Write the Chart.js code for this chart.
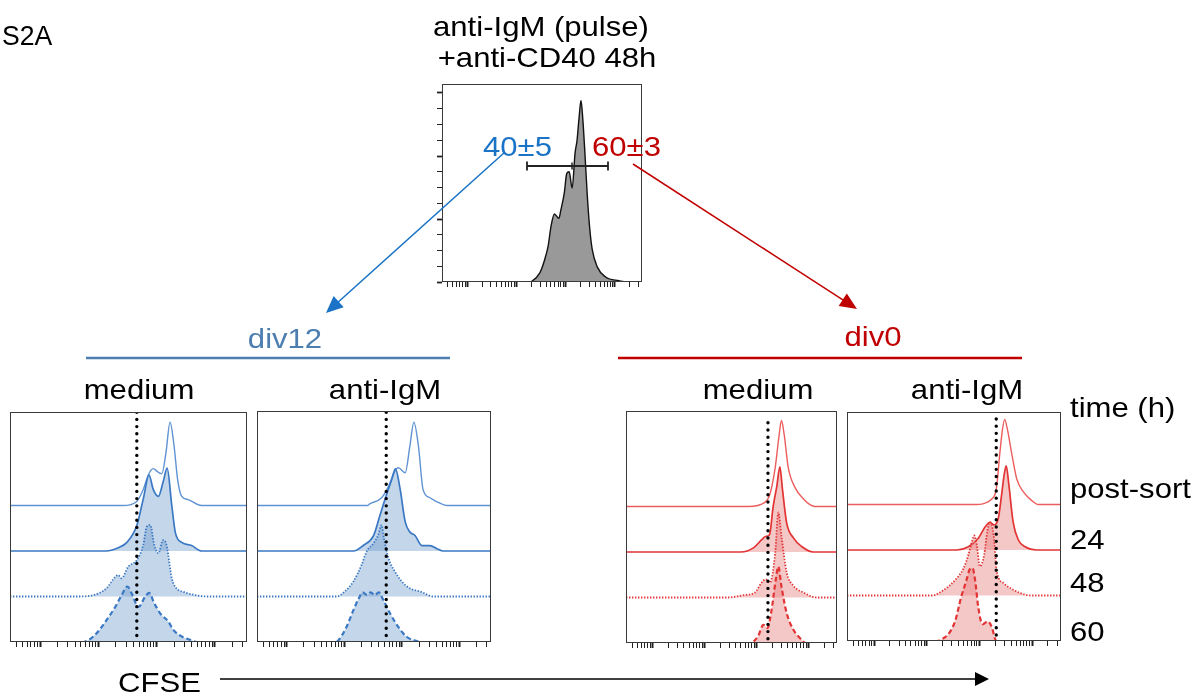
<!DOCTYPE html>
<html><head><meta charset="utf-8">
<script src="https://cdn.jsdelivr.net/npm/chart.js@4.4.1/dist/chart.umd.min.js"></script>
<style>
html,body{margin:0;padding:0;background:#fff;}
#fig{position:relative;width:1196px;height:696px;overflow:hidden;font-family:"Liberation Sans",Arial,sans-serif;}
.t{position:absolute;white-space:nowrap;line-height:1;font-size:28px;color:#000;}
canvas{position:absolute;}
svg{position:absolute;left:0;top:0;}
</style></head><body><div id="fig"></div>
<script>
// ---------------- DATA (log10 CFSE, relative count) ----------------
const panelTitles = ['medium', 'anti-IgM', 'medium', 'anti-IgM'];
const groupTitles = ['div12', 'div0'];
const timeLabels = ['post-sort', '24', '48', '60'];
const gatePercents = ['40±5', '60±3'];

// top histogram: anti-IgM (pulse) + anti-CD40 48h
const pulseHist = [[2.25,0],[2.31,0.01],[2.47,0.14],[2.57,0.35],[2.64,0.56],[2.70,0.88],[2.77,1.08],[2.86,1.01],[2.90,1.14],[2.97,1.41],[3.02,1.72],[3.07,1.75],[3.13,1.49],[3.19,2.05],[3.23,2.25],[3.27,2.6],[3.31,2.88],[3.35,2.55],[3.39,2.04],[3.44,1.35],[3.49,0.83],[3.54,0.51],[3.64,0.24],[3.81,0.08],[4.08,0.02],[4.25,0]];

// div12 / medium
const div12MedPost = [[2.42,0],[2.66,0.09],[2.77,0.35],[2.86,0.68],[2.94,0.81],[3.03,0.73],[3.09,0.70],[3.16,1.16],[3.23,1.83],[3.30,1.30],[3.36,0.57],[3.43,0.20],[3.54,0.13],[3.77,0]];
const div12Med24 = [[2.14,0],[2.32,0.06],[2.49,0.19],[2.66,0.56],[2.77,1.14],[2.87,1.67],[2.94,1.36],[3.03,1.20],[3.11,1.51],[3.18,1.82],[3.26,1.0],[3.32,0.41],[3.43,0.19],[3.60,0.12],[3.77,0]];
const div12Med48 = [[1.63,0],[1.91,0.03],[2.14,0.18],[2.29,0.43],[2.34,0.47],[2.40,0.40],[2.51,0.65],[2.66,0.80],[2.77,1.13],[2.83,1.53],[2.89,1.57],[2.96,1.13],[3.03,0.95],[3.11,1.24],[3.17,1.13],[3.26,0.40],[3.34,0.18],[3.46,0.10],[3.63,0.04],[3.86,0]];
const div12Med60 = [[1.75,0],[1.83,0.04],[1.97,0.19],[2.14,0.48],[2.29,0.77],[2.40,1.03],[2.50,1.22],[2.57,1.07],[2.69,0.77],[2.80,0.99],[2.87,1.08],[2.96,0.85],[3.06,0.63],[3.20,0.45],[3.29,0.26],[3.43,0.12],[3.60,0.04],[3.69,0]];
// div12 / anti-IgM
const div12IgmPost = [[2.40,0],[2.45,0.04],[2.65,0.17],[2.77,0.42],[2.87,0.73],[2.94,0.83],[3.06,0.72],[3.14,1.30],[3.21,1.83],[3.29,1.30],[3.37,0.35],[3.49,0.17],[3.63,0.07],[3.78,0]];
const div12Igm24 = [[2.16,0],[2.33,0.12],[2.51,0.34],[2.62,0.78],[2.74,1.26],[2.83,1.59],[2.89,1.81],[2.97,1.37],[3.06,0.64],[3.14,0.42],[3.23,0.34],[3.35,0.12],[3.49,0.12],[3.61,0.05],[3.72,0]];
const div12Igm48 = [[1.87,0],[2.01,0.11],[2.16,0.33],[2.30,0.69],[2.39,0.99],[2.51,1.17],[2.59,1.35],[2.65,1.57],[2.69,1.28],[2.77,0.84],[2.88,0.55],[3.00,0.33],[3.14,0.18],[3.32,0.11],[3.55,0]];
const div12Igm60 = [[1.85,0],[1.90,0.04],[2.04,0.33],[2.16,0.70],[2.25,0.95],[2.32,1.09],[2.40,1.03],[2.46,1.09],[2.53,1.03],[2.60,1.09],[2.68,0.92],[2.80,0.62],[2.94,0.33],[3.09,0.11],[3.26,0.02],[3.32,0]];
// div0 / medium
const div0MedPost = [[2.84,0],[3.16,0.09],[3.26,0.28],[3.36,0.86],[3.43,1.52],[3.48,1.89],[3.53,1.60],[3.61,0.86],[3.74,0.42],[3.90,0.17],[4.03,0.04],[4.13,0]];
const div0Med24 = [[2.70,0],[2.94,0.09],[3.10,0.27],[3.17,0.34],[3.25,0.38],[3.32,1.0],[3.39,1.44],[3.45,1.87],[3.50,1.37],[3.58,0.64],[3.71,0.31],[3.87,0.12],[4.09,0]];
const div0Med48 = [[2.43,0],[2.75,0.05],[2.97,0.11],[3.10,0.33],[3.18,0.40],[3.26,0.33],[3.36,0.99],[3.42,1.87],[3.48,1.35],[3.58,0.55],[3.71,0.26],[3.90,0.11],[4.16,0]];
const div0Med60 = [[2.87,0],[3.03,0.15],[3.13,0.40],[3.21,0.33],[3.29,0.73],[3.37,1.39],[3.42,1.68],[3.48,1.24],[3.58,0.66],[3.71,0.29],[3.87,0.07],[3.94,0]];
// div0 / anti-IgM
const div0IgmPost = [[2.89,0],[3.27,0.16],[3.33,0.42],[3.39,1.15],[3.44,1.66],[3.48,1.87],[3.53,1.66],[3.62,1.08],[3.71,0.56],[3.84,0.27],[3.99,0.09],[4.12,0]];
const div0Igm24 = [[2.57,0],[2.79,0.07],[2.98,0.26],[3.11,0.51],[3.20,0.61],[3.28,0.55],[3.36,0.70],[3.43,1.29],[3.47,1.65],[3.51,1.85],[3.56,1.43],[3.64,0.62],[3.74,0.22],[3.87,0.07],[4.09,0]];
const div0Igm48 = [[2.10,0],[2.32,0.12],[2.54,0.34],[2.70,0.60],[2.79,0.89],[2.86,1.19],[2.90,1.32],[2.95,1.11],[3.01,0.64],[3.09,0.89],[3.15,1.41],[3.20,1.61],[3.27,1.33],[3.33,0.53],[3.46,0.27],[3.65,0.12],[3.90,0.01],[4.0,0]];
const div0Igm60 = [[2.20,0],[2.25,0.02],[2.41,0.15],[2.54,0.44],[2.65,0.95],[2.75,1.32],[2.82,1.58],[2.87,1.60],[2.92,1.32],[2.98,0.73],[3.06,0.37],[3.16,0.43],[3.24,0.29],[3.30,0.04],[3.33,0]];

// dotted reference line (CFSE of undivided peak) per panel
const dottedGatePos = [2.66, 2.73, 3.22, 3.32];
const dottedTop = [5.05, 5.05, 4.84, 4.88];

// axis ticks
const decades = [0, 1, 2, 3, 4, 5];
const minorMult = [1, 2, 3, 4, 5, 6, 7, 8, 9];
const topYTicks = [0, 0.25, 0.5, 0.75, 1, 1.25, 1.5, 1.75, 2, 2.25, 2.5, 2.75, 3];

// ---------------- LAYOUT ----------------
const X_MIN = 0.485, X_MAX = 4.55;
const fig = document.getElementById('fig');
const xTicks = [];
decades.forEach(d => minorMult.forEach(k => { const v = d + Math.log10(k); if (v >= X_MIN && v <= X_MAX) xTicks.push(v); }));
const isMajor = v => Math.abs(v - Math.round(v)) < 1e-6;

const framePlugin = {
  id: 'frame',
  afterDatasetsDraw(chart, args, o) {
    const a = chart.chartArea, c = chart.ctx;
    c.save(); c.strokeStyle = o.color || '#444'; c.lineWidth = 1;
    c.strokeRect(Math.round(a.left) + 0.5, Math.round(a.top) + 0.5, Math.round(a.right - a.left) - 1, Math.round(a.bottom - a.top) - 1);
    c.restore();
  }
};

function makeChart(box, datasets, yMax, yTicks) {
  const cv = document.createElement('canvas');
  const W = box.w + 10, H = box.h + 10;
  cv.width = W; cv.height = H;
  cv.style.left = (box.l - 8) + 'px'; cv.style.top = (box.t - 2) + 'px';
  cv.style.width = W + 'px'; cv.style.height = H + 'px';
  fig.appendChild(cv);
  new Chart(cv.getContext('2d'), {
    type: 'line',
    data: { datasets },
    plugins: [framePlugin],
    options: {
      responsive: false, animation: false, devicePixelRatio: 1,
      layout: { padding: { top: 2, right: 2, left: 0, bottom: 0 } },
      plugins: { legend: { display: false }, tooltip: { enabled: false }, frame: { color: '#3a3a3a' } },
      elements: { point: { radius: 0 }, line: { cubicInterpolationMode: 'monotone' } },
      scales: {
        x: {
          type: 'linear', min: X_MIN, max: X_MAX,
          afterBuildTicks: s => { s.ticks = xTicks.map(v => ({ value: v })); },
          afterFit: s => { s.height = 8; },
          border: { display: false },
          grid: { display: true, drawOnChartArea: false, drawTicks: true, tickLength: 5, tickColor: '#222',
                  tickWidth: c => (c.tick && isMajor(c.tick.value)) ? 2 : 1 },
          ticks: { display: false, autoSkip: false }
        },
        y: {
          type: 'linear', min: 0, max: yMax,
          afterBuildTicks: s => { if (yTicks) s.ticks = yTicks.map(v => ({ value: v })); },
          afterFit: s => { s.width = 8; },
          border: { display: false },
          grid: { display: !!yTicks, drawOnChartArea: false, drawTicks: true, tickLength: 5, tickColor: '#222',
                  tickWidth: c => (c.tick && isMajor(c.tick.value)) ? 1.8 : 1 },
          ticks: { display: false, autoSkip: false }
        }
      }
    }
  });
}

const toPts = (arr, off) => [{ x: X_MIN, y: off }].concat(arr.map(p => ({ x: p[0], y: off + p[1] })), [{ x: X_MAX, y: off }]);

const PAL = {
  blue: { post: '#5f93d3', line: '#3a78c4', fill: 'rgba(108,152,202,0.40)' },
  red:  { post: '#ec5e5e', line: '#e23434', fill: 'rgba(230,117,117,0.40)' }
};
const STY = [
  { dash: [], w: 1.4, fill: false, off: 3 },
  { dash: [], w: 1.7, fill: true, off: 2 },
  { dash: [1.4, 1.6], w: 1.8, fill: true, off: 1 },
  { dash: [5, 3], w: 2.2, fill: true, off: 0 }
];

function histPanel(box, curves, pal, gi) {
  const yMax = box.h / 45.5;
  const ds = curves.map((c, i) => {
    const s = STY[i];
    return {
      data: toPts(c, s.off), borderColor: i === 0 ? pal.post : pal.line, borderWidth: s.w, borderDash: s.dash,
      fill: s.fill ? { value: s.off } : false, backgroundColor: pal.fill, order: 4 - i
    };
  });
  ds.push({ data: [{ x: dottedGatePos[gi], y: dottedTop[gi] }, { x: dottedGatePos[gi], y: 0 }],
            borderColor: '#000', borderWidth: 3.4, borderDash: [0, 7.2], borderCapStyle: 'round',
            fill: false, order: 0, cubicInterpolationMode: 'default', tension: 0 });
  makeChart(box, ds, yMax, null);
}

// top panel
makeChart({ l: 442, t: 84, w: 200, h: 198 }, [{
  data: toPts(pulseHist, 0), borderColor: '#111', borderWidth: 1.4, fill: { value: 0 }, backgroundColor: '#999999'
}], 198 / 63, topYTicks);

histPanel({ l: 10, t: 412, w: 237, h: 230 }, [div12MedPost, div12Med24, div12Med48, div12Med60], PAL.blue, 0);
histPanel({ l: 257, t: 411, w: 234, h: 231 }, [div12IgmPost, div12Igm24, div12Igm48, div12Igm60], PAL.blue, 1);
histPanel({ l: 626, t: 411, w: 211, h: 232 }, [div0MedPost, div0Med24, div0Med48, div0Med60], PAL.red, 2);
histPanel({ l: 847, t: 412, w: 214, h: 229 }, [div0IgmPost, div0Igm24, div0Igm48, div0Igm60], PAL.red, 3);

// ---------------- annotations ----------------
const NS = 'http://www.w3.org/2000/svg';
const svg = document.createElementNS(NS, 'svg');
svg.setAttribute('width', 1196); svg.setAttribute('height', 696);
fig.appendChild(svg);
function el(name, attrs) { const e = document.createElementNS(NS, name); for (const k in attrs) e.setAttribute(k, attrs[k]); svg.appendChild(e); return e; }
function arrow(x1, y1, x2, y2, col, w, hl, hw) {
  const dx = x2 - x1, dy = y2 - y1, L = Math.hypot(dx, dy), ux = dx / L, uy = dy / L;
  const bx = x2 - ux * hl, by = y2 - uy * hl;
  el('line', { x1, y1, x2: bx + ux * 2, y2: by + uy * 2, stroke: col, 'stroke-width': w });
  el('polygon', { points: `${x2},${y2} ${bx - uy * hw},${by + ux * hw} ${bx + uy * hw},${by - ux * hw}`, fill: col });
}
arrow(505, 152, 326, 313, '#1a73c6', 1.5, 17, 7.5);
arrow(633, 164, 857, 309, '#c00000', 1.5, 17, 7.5);
el('line', { x1: 86, y1: 358, x2: 450, y2: 358, stroke: '#4d7eb0', 'stroke-width': 2.5 });
el('line', { x1: 618, y1: 358, x2: 1022, y2: 358, stroke: '#c00000', 'stroke-width': 2.5 });
arrow(220, 679, 989, 679, '#000', 1.3, 14, 7);
// gate bracket
el('line', { x1: 527, y1: 166, x2: 608, y2: 166, stroke: '#222', 'stroke-width': 1.8 });
el('line', { x1: 527, y1: 161.5, x2: 527, y2: 170.5, stroke: '#222', 'stroke-width': 1.8 });
el('line', { x1: 608, y1: 161.5, x2: 608, y2: 170.5, stroke: '#222', 'stroke-width': 1.8 });
el('line', { x1: 572, y1: 162.5, x2: 572, y2: 169.5, stroke: '#222', 'stroke-width': 1.5 });

function text(s, x, base, opt) {
  opt = opt || {};
  const fs = opt.fs || 28, sx = opt.sx || 1.11;
  const d = document.createElement('div');
  d.className = 't'; d.textContent = s;
  d.style.fontSize = fs + 'px'; d.style.color = opt.c || '#000';
  d.style.top = (base - 0.8465 * fs) + 'px';
  d.style.left = x + 'px';
  if (opt.center) { d.style.transformOrigin = '50% 50%'; d.style.transform = `translateX(-50%) scaleX(${sx})`; }
  else { d.style.transformOrigin = '0 0'; d.style.transform = `scaleX(${sx})`; }
  fig.appendChild(d);
}
text('S2A', 2, 46, { fs: 28, sx: 0.95 });
text('anti-IgM (pulse)', 541, 37, { center: true });
text('+anti-CD40 48h', 547, 68, { center: true });
text(gatePercents[0], 482.7, 157, { c: '#1a73c6' });
text(gatePercents[1], 591.7, 157, { c: '#c00000' });
text(groupTitles[0], 284.7, 349, { center: true, c: '#4d7eb0' });
text(groupTitles[1], 873, 347, { center: true, c: '#c00000' });
[138.5, 385, 758, 966.5].forEach((cx, i) => text(panelTitles[i], cx, 400, { center: true }));
text('time (h)', 1070, 418);
[499, 550, 593, 642].forEach((b, i) => text(timeLabels[i], 1070, b));
text('CFSE', 118, 693);
</script>
</body></html>
